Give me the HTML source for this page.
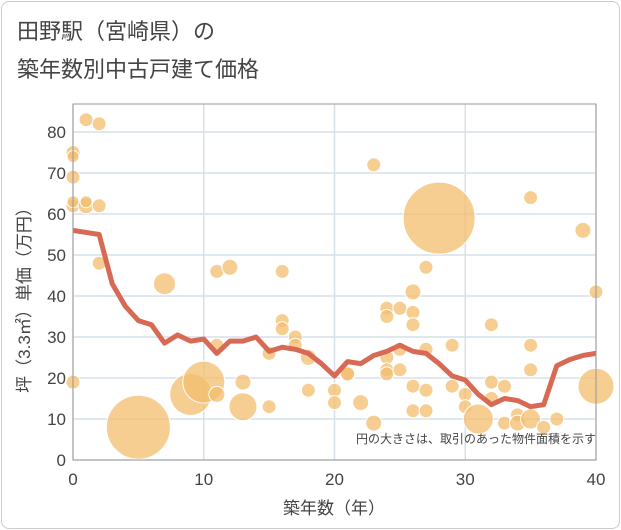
<!DOCTYPE html>
<html><head><meta charset="utf-8"><style>
body{margin:0;background:#fff;font-family:"Liberation Sans","Noto Sans CJK JP",sans-serif}
#frame{position:absolute;left:1px;top:1px;width:617px;height:526px;border:1px solid #ccc;border-radius:8px}
</style></head><body>
<div id="frame"></div>
<svg id="c" width="621" height="530" style="position:absolute;left:0;top:0">
<text x="17" y="39" font-size="22" fill="#444">田野駅（宮崎県）の</text>
<text x="17" y="77" font-size="22" fill="#444">築年数別中古戸建て価格</text>
<g id="grid"></g><g id="bub"></g><g id="ln"></g><g id="ax"></g>
<text x="596" y="443" font-size="12" fill="#444" text-anchor="end">円の大きさは、取引のあった物件面積を示す</text>
<text x="334" y="514" font-size="17" fill="#444" text-anchor="middle">築年数（年）</text>
<text transform="translate(30,296) rotate(-90)" font-size="17" fill="#444" text-anchor="middle">坪（3.3㎡）単価（万円）</text>
</svg>
<script>
const xTicks=[0,10,20,30,40];
const yTicks=[0,10,20,30,40,50,60,70,80];
const bubX=[0,0,0,0,0,0,1,2,1,1,2,2,7,5,9,10,11,11,12,11,13,13,15,15,16,16,16,17,17,18,18,20,20,21,21,22,23,23,24,24,24,24,24,25,25,25,26,26,26,26,26,27,27,27,27,28,29,29,30,30,31,32,32,33,32,33,34,34,35,35,35,35,36,37,39,40,40];
const bubY=[75,74,69,62,63,19,83,82,62,63,62,48,43,8,16,19,16,46,47,28,19,13,13,26,46,34,32,30,28,25,17,17,14,21,21,14,72,9,37,35,25,22,21,37,27,22,41,36,33,18,12,47,27,17,12,59,28,18,16,13,10,33,19,18,15,9,11,9,64,28,22,10,8,10,56,41,18];
const bubR=[7,6,7,7,6,7,7,7,8,6,7,7,11,32,21,21,8,7,8,7,8,14,7,7,7,7,7,7,7,8,7,7,7,8,7,8,7,8,7,7,7,7,7,7,7,7,8,7,7,7,7,7,7,7,7,36,7,7,7,7,15,7,7,7,7,7,7,8,7,7,7,10,7,7,8,7,18];
const lineX=[0,1,2,3,4,5,6,7,8,9,10,11,12,13,14,15,16,17,18,19,20,21,22,23,24,25,26,27,28,29,30,31,32,33,34,35,36,37,38,39,40];
const lineY=[56,55.5,55,43,37.5,34,33,28.5,30.5,29,29.5,26,29,29,30,26.5,27.5,27,26,23.5,20.5,24,23.5,25.5,26.5,28,26.5,26,23.5,20.5,19.5,16,13.5,15,14.5,13,13.5,23,24.5,25.5,26];
const X=v=>73+v*(596-73)/40, Y=v=>460-v*(460-132)/80;
const NS='http://www.w3.org/2000/svg';
function mk(t,a,p){const e=document.createElementNS(NS,t);for(const k in a)e.setAttribute(k,a[k]);p.appendChild(e);return e;}
const g=document.getElementById('grid'),ax=document.getElementById('ax'),b=document.getElementById('bub'),ln=document.getElementById('ln');
yTicks.forEach(v=>{const l=mk('line',{x1:73,x2:596,y1:Y(v),y2:Y(v),stroke:'#d5e0ea','stroke-width':1.5},g);

const t=mk('text',{x:66,y:Y(v)+6,'font-size':17,fill:'#444','text-anchor':'end'},ax);t.textContent=v;
});
xTicks.forEach(v=>{const l=mk('line',{x1:X(v),x2:X(v),y1:104,y2:460,stroke:'#d5e0ea','stroke-width':1.5},g);

const t=mk('text',{x:X(v),y:485,'font-size':17,fill:'#444','text-anchor':'middle'},ax);t.textContent=v;
});
const bx=mk('rect',{x:73,y:104,width:523,height:356,fill:'none',stroke:'#999','stroke-width':1},ax);

bubX.forEach((v,i)=>{const c=mk('circle',{cx:X(v),cy:Y(bubY[i]),r:bubR[i],fill:'#f3bd6d','fill-opacity':0.75,stroke:'#fff','stroke-width':1},b);
});
const p=mk('polyline',{points:lineX.map((v,i)=>X(v)+','+Y(lineY[i])).join(' '),fill:'none',stroke:'#d86a55','stroke-width':5,'stroke-linejoin':'round'},ln);

</script>
</body></html>
